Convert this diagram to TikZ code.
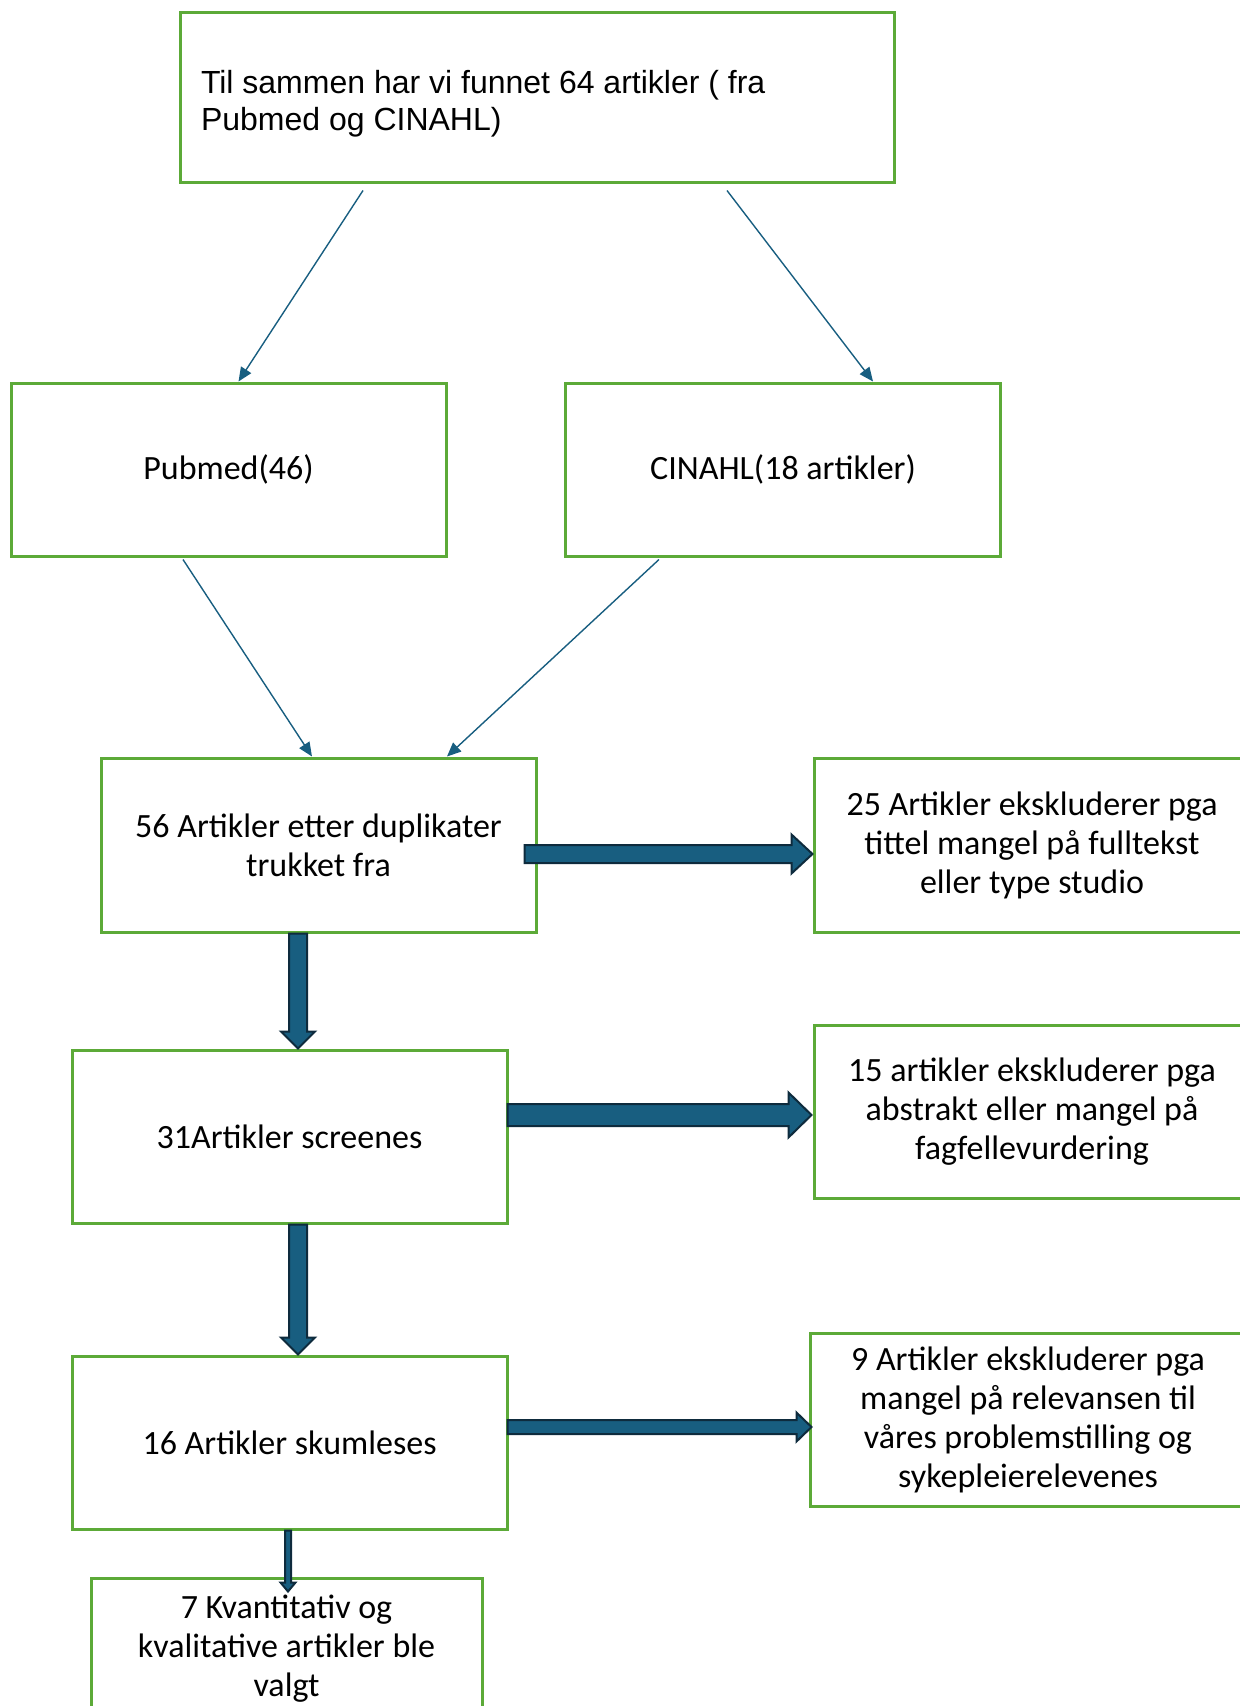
\documentclass[tikz,border=0pt]{standalone}
\usepackage{fontspec}
\setmainfont{Carlito}
\newfontfamily\arialfont{Liberation Sans}
\usetikzlibrary{arrows.meta,calc}

\definecolor{boxgreen}{RGB}{92,170,56}
\definecolor{arrowblue}{RGB}{24,94,128}
\definecolor{arrowdark}{RGB}{14,43,61}

\tikzset{
  box/.style={draw=boxgreen, line width=1.5pt, minimum width=217.5pt, minimum height=86.5pt,
    inner sep=0pt, align=center, font=\fontsize{17}{19.5}\selectfont},
  thinarrow/.style={draw=arrowblue, line width=0.7pt, -{Triangle[length=7pt,width=6pt]}},
  fatarrow/.style={fill=arrowblue, draw=arrowdark, line width=1pt, line join=miter},
}

% block arrows: start, tip, half shaft, half head, head length
\newcommand{\sidearrow}[5]{%
  \draw[fatarrow] let \p1=(#1), \p2=(#2) in
    (\x1,\y1+#3) -- (\x2-#5,\y1+#3) -- (\x2-#5,\y1+#4) -- (\x2,\y1)
    -- (\x2-#5,\y1-#4) -- (\x2-#5,\y1-#3) -- (\x1,\y1-#3) -- cycle;}
\newcommand{\droparrow}[5]{%
  \draw[fatarrow] let \p1=(#1), \p2=(#2) in
    (\x1-#3,\y1) -- (\x1-#3,\y2+#5) -- (\x1-#4,\y2+#5) -- (\x1,\y2)
    -- (\x1+#4,\y2+#5) -- (\x1+#3,\y2+#5) -- (\x1+#3,\y1) -- cycle;}

\begin{document}
\begin{tikzpicture}[x=0.5pt, y=-0.5pt]
\useasboundingbox (0,0) rectangle (1240,1706);

\node[box, minimum width=357pt, minimum height=85pt,
  font=\arialfont\fontsize{16}{18.5}\selectfont] (total) at (537,98)
  {\raisebox{-2.7pt}[\height][\depth]{\parbox{336pt}{\raggedright Til sammen har vi funnet 64 artikler ( fra\\ Pubmed og CINAHL)}}};

\node[box] (pub) at (228.5,469.5) {Pubmed(46)};
\node[box] (cin) at (783,469.5) {CINAHL(18 artikler)};

\node[box, minimum height=87pt] (dup) at (318.5,845) {56 Artikler etter duplikater\\ trukket fra};
\node[box, minimum width=218pt, minimum height=87pt] (ex1) at (1032,845)
  {25 Artikler ekskluderer pga\\ tittel mangel på fulltekst\\ eller type studio};

\node[box] (scr) at (289.5,1136.5) {31Artikler screenes};
\node[box, minimum width=218pt] (ex2) at (1032,1111.5)
  {15 artikler ekskluderer pga\\ abstrakt eller mangel på\\ fagfellevurdering};

\node[box] (skum) at (289.5,1442.5) {16 Artikler skumleses};
\node[box, minimum width=218pt] (ex3) at (1028,1420)
  {9 Artikler ekskluderer pga\\ mangel på relevansen til\\ våres problemstilling og\\ sykepleierelevenes};

\node[box, minimum width=195.5pt, minimum height=71pt] (sel) at (286.5,1649)
  {7 Kvantitativ og\\ kvalitative artikler ble\\ valgt};

% thin arrows
\draw[thinarrow] ($(total.south)+(-174,6)$) -- ($(pub.north)+(10,0)$);
\draw[thinarrow] ($(total.south)+(190,6)$) -- ($(cin.north)+(90,0)$);
\draw[thinarrow] ($(pub.south)+(-45.5,2)$) -- ($(dup.north)+(-6.5,0)$);
\draw[thinarrow] ($(cin.south)+(-124,2)$) -- ($(dup.north)+(128.5,0)$);

% block arrows
\sidearrow{$(dup.east)+(-13,9)$}{$(ex1.west)+(0,9)$}{4.5pt}{9.75pt}{10.5pt}
\sidearrow{$(scr.east)+(-1,-21.5)$}{$(ex2.west)+(-1,3.5)$}{5.5pt}{11.25pt}{11.5pt}
\sidearrow{$(skum.east)+(-1,-15.5)$}{$(ex3.west)+(3,7)$}{3.5pt}{7.25pt}{7.5pt}

\droparrow{$(dup.south)+(-20.5,0)$}{$(scr.north)+(8.5,0)$}{4.5pt}{8.5pt}{8.5pt}
\droparrow{$(scr.south)+(8.5,0)$}{$(skum.north)+(8.5,0)$}{4.5pt}{8.5pt}{8.5pt}
\droparrow{$(skum.south)+(-1.5,0)$}{$(sel.north)+(1.5,15)$}{1.5pt}{3.75pt}{4.5pt}
\end{tikzpicture}
\end{document}
